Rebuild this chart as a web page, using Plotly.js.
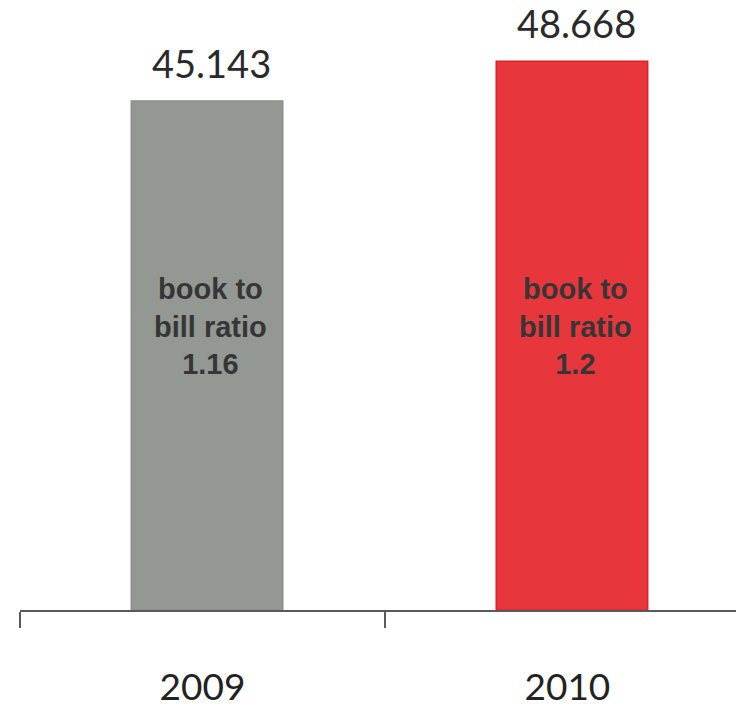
<!DOCTYPE html>
<html>
<head>
<meta charset="utf-8">
<script src="https://cdn.plot.ly/plotly-3.0.1.min.js"></script>
<style>html,body{margin:0;padding:0;background:#fff;}#chart{width:736px;height:707px;}</style>
</head>
<body>
<div id="chart"></div>
<script>
const years = ["2009", "2010"];
const values = [45.143, 48.668];
const valueLabels = ["45.143", "48.668"];
const ratioLabels = ["book to<br>bill ratio<br>1.16", "book to<br>bill ratio<br>1.2"];
const barColors = ["#939893", "#e8363d"];
const lineColors = ["#8a8f8a", "#e01f27"];

const trace = {
  type: "bar",
  x: years,
  y: values,
  width: 0.415,
  offset: -0.195,
  marker: {color: barColors, line: {color: lineColors, width: 1.5}},
  hoverinfo: "skip"
};

const annotations = [];
years.forEach((yr, i) => {
  annotations.push({
    x: i, y: values[i], xref: "x", yref: "y",
    text: valueLabels[i], showarrow: false,
    yanchor: "bottom", yshift: 13, xshift: 9,
    font: {family: "Lato, 'Open Sans', sans-serif", size: 38, color: "#2a2a2a"}
  });
  annotations.push({
    x: i, y: 0.465, xref: "x", yref: "paper",
    text: "<b>" + ratioLabels[i] + "</b>", showarrow: false,
    yanchor: "middle", xshift: 8,
    font: {family: "'Liberation Sans', Arial, sans-serif", size: 29, color: "#363636"}
  });
});

const layout = {
  width: 736, height: 707,
  margin: {l: 20, r: 0, t: 0, b: 97},
  paper_bgcolor: "#ffffff",
  plot_bgcolor: "#ffffff",
  showlegend: false,
  xaxis: {
    type: "category",
    range: [-0.5, 1.462],
    showline: true, linecolor: "#5a5a5a", linewidth: 1.5,
    ticks: "outside", tickson: "boundaries", ticklen: 16, tickcolor: "#5a5a5a", tickwidth: 1.5,
    ticklabelstandoff: 44,
    tickfont: {family: "Lato, 'Open Sans', sans-serif", size: 37, color: "#222"},
    showgrid: false, zeroline: false
  },
  yaxis: {
    range: [0, 54.1],
    visible: false, showgrid: false, zeroline: false
  },
  annotations: annotations
};

Plotly.newPlot("chart", [trace], layout, {displayModeBar: false, staticPlot: true});
</script>
</body>
</html>
